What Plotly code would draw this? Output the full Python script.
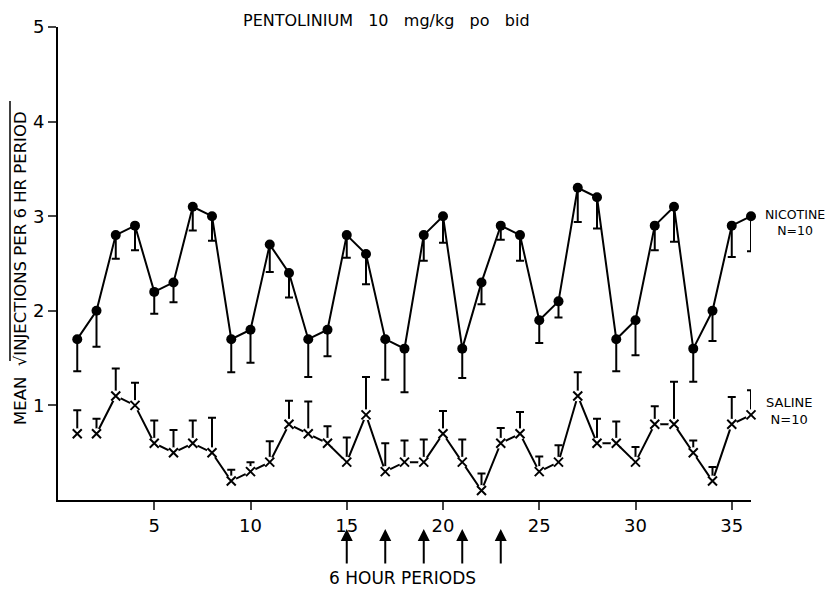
import plotly.graph_objects as go

periods = list(range(1, 37))
nicotine = [1.7, 2.0, 2.8, 2.9, 2.2, 2.3, 3.1, 3.0, 1.7, 1.8, 2.7, 2.4, 1.7, 1.8, 2.8, 2.6, 1.7, 1.6,
            2.8, 3.0, 1.6, 2.3, 2.9, 2.8, 1.9, 2.1, 3.3, 3.2, 1.7, 1.9, 2.9, 3.1, 1.6, 2.0, 2.9, 3.0]
nicotine_err = [0.34, 0.38, 0.25, 0.26, 0.23, 0.21, 0.25, 0.26, 0.35, 0.35, 0.29, 0.26, 0.40, 0.28, 0.24, 0.32, 0.43, 0.46,
                0.27, 0.28, 0.31, 0.23, 0.15, 0.27, 0.24, 0.17, 0.36, 0.33, 0.34, 0.37, 0.26, 0.37, 0.35, 0.32, 0.33, 0.37]
saline = [0.7, 0.7, 1.1, 1.0, 0.6, 0.5, 0.6, 0.5, 0.2, 0.3, 0.4, 0.8, 0.7, 0.6, 0.4, 0.9, 0.3, 0.4,
          0.4, 0.7, 0.4, 0.1, 0.6, 0.7, 0.3, 0.4, 1.1, 0.6, 0.6, 0.4, 0.8, 0.8, 0.5, 0.2, 0.8, 0.9]
saline_err = [0.25, 0.16, 0.29, 0.24, 0.24, 0.24, 0.24, 0.37, 0.12, 0.1, 0.22, 0.25, 0.34, 0.18, 0.26, 0.40, 0.30, 0.23,
              0.24, 0.24, 0.24, 0.18, 0.16, 0.23, 0.16, 0.18, 0.25, 0.26, 0.23, 0.16, 0.19, 0.45, 0.13, 0.15, 0.29, 0.26]
arrow_periods = [15, 17, 19, 21, 23]
x_ticks = [5, 10, 15, 20, 25, 30, 35]
y_ticks = [1, 2, 3, 4, 5]

FONT = "DejaVu Sans"
NB = "\u00a0"
zeros = [0] * len(periods)

fig = go.Figure()

# Nicotine: line + filled circles, error bars downward
fig.add_trace(go.Scatter(
    x=periods, y=nicotine, mode="lines+markers", cliponaxis=False,
    line=dict(color="black", width=2),
    marker=dict(symbol="circle", size=10, color="black"),
    error_y=dict(type="data", symmetric=False, array=zeros, arrayminus=nicotine_err,
                 color="black", thickness=2, width=4),
    showlegend=False, hoverinfo="skip"))

# Saline: line (first point not connected)
fig.add_trace(go.Scatter(
    x=periods[1:], y=saline[1:], mode="lines", cliponaxis=False,
    line=dict(color="black", width=2),
    showlegend=False, hoverinfo="skip"))
# white masks with upward error bars
fig.add_trace(go.Scatter(
    x=periods, y=saline, mode="markers", cliponaxis=False,
    marker=dict(symbol="circle", size=11, color="white"),
    error_y=dict(type="data", symmetric=False, array=saline_err, arrayminus=zeros,
                 color="black", thickness=2, width=4),
    showlegend=False, hoverinfo="skip"))
# X markers
fig.add_trace(go.Scatter(
    x=periods, y=saline, mode="markers", cliponaxis=False,
    marker=dict(symbol="x-thin-open", size=9, color="black", line=dict(color="black", width=2)),
    showlegend=False, hoverinfo="skip"))

title_txt = (NB * 3).join(["PENTOLINIUM", "10", "mg/kg", "po", "bid"])
annotations = [
    dict(text=title_txt, xref="paper", yref="paper", x=(386 - 58) / 693, y=(500 - 20) / 473,
         showarrow=False, xanchor="center", yanchor="middle",
         font=dict(family=FONT, size=16, color="black")),
    dict(text="NICOTINE<br>N=10", xref="paper", yref="paper", x=(795 - 58) / 693, y=(500 - 222) / 473,
         showarrow=False, xanchor="center", yanchor="middle", align="center",
         font=dict(family=FONT, size=12.5, color="black")),
    dict(text="SALINE<br>N=10", xref="paper", yref="paper", x=(789 - 58) / 693, y=(500 - 411) / 473,
         showarrow=False, xanchor="center", yanchor="middle", align="center",
         font=dict(family=FONT, size=13, color="black")),
    dict(text="6 HOUR PERIODS", xref="paper", yref="paper", x=(402 - 58) / 693, y=(500 - 578) / 473,
         showarrow=False, xanchor="center", yanchor="middle",
         font=dict(family=FONT, size=17, color="black")),
    dict(text="MEAN" + NB * 2 + "\u221aINJECTIONS PER 6 HR PERIOD", xref="paper", yref="paper",
         x=0, y=(500 - 268) / 473,
         xshift=-38, showarrow=False, textangle=-90, xanchor="center", yanchor="middle",
         font=dict(family=FONT, size=16.5, color="black")),
]
for p in arrow_periods:
    annotations.append(dict(x=p, y=(500 - 529) / 473, xref="x", yref="paper", text="", showarrow=True,
                            ax=0, ay=36, arrowhead=2, arrowsize=1.2, arrowwidth=2,
                            arrowcolor="black"))

fig.update_layout(
    width=830, height=590,
    margin=dict(l=58, r=79, t=27, b=90),
    paper_bgcolor="white", plot_bgcolor="white",
    annotations=annotations,
    font=dict(family=FONT, color="black"),
    shapes=[dict(type="line", xref="paper", yref="paper",
                 x0=-(58 - 10) / 693, x1=-(58 - 10) / 693,
                 y0=(500 - 361) / 473, y1=(500 - 101) / 473,
                 line=dict(color="black", width=1.5))],
)
fig.update_xaxes(range=[0, 36], tickvals=x_ticks, ticks="outside", ticklen=8, tickwidth=2,
                 showline=True, linewidth=2, linecolor="black", showgrid=False, zeroline=False,
                 tickfont=dict(family=FONT, size=18, color="black"))
fig.update_yaxes(range=[0, 5], tickvals=y_ticks, ticks="outside", ticklen=8, tickwidth=2,
                 showline=True, linewidth=2, linecolor="black", showgrid=False, zeroline=False,
                 tickfont=dict(family=FONT, size=18, color="black"))

fig.write_html("out.html")
